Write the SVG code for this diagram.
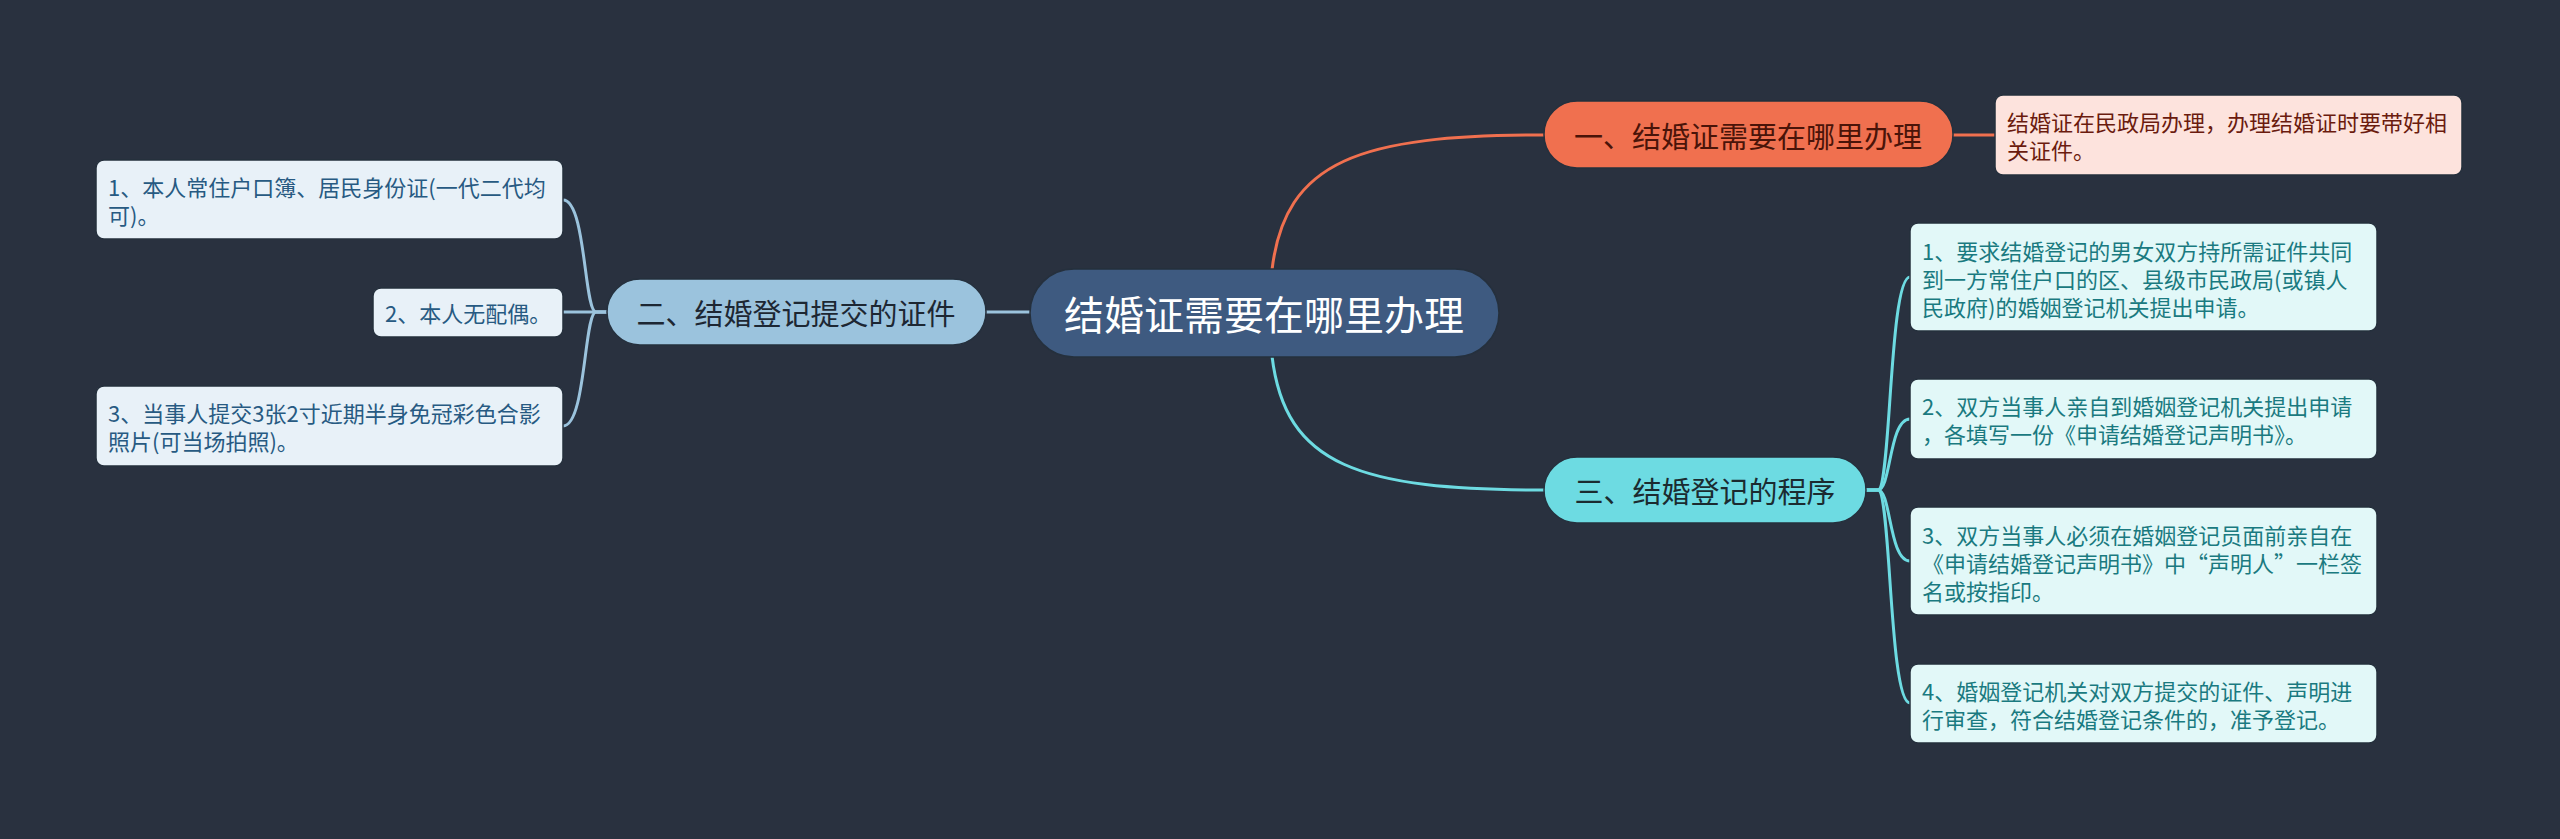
<svg xmlns="http://www.w3.org/2000/svg" width="2560" height="839" viewBox="0 0 2560 839">
<style>
text{font-family:"Noto Sans CJK SC","Microsoft YaHei",sans-serif;dominant-baseline:central}
.main{fill:#3e5a80;stroke:#25303d;stroke-width:1.5}
.mt{fill:#ffffff;font-size:40px;text-anchor:middle}
.t1{fill:#f0704f;stroke:#25303d;stroke-width:1.5}
.t1t{fill:#4a1409;font-size:29px;text-anchor:middle}
.d1{fill:#fde3dd;stroke:#25303d;stroke-width:1.5}
.d1t{fill:#6b1b0e;font-size:22px}
.t2{fill:#9bc3dd;stroke:#25303d;stroke-width:1.5}
.t2t{fill:#1d2733;font-size:29px;text-anchor:middle}
.d2{fill:#e8f1f8;stroke:#25303d;stroke-width:1.5}
.d2t{fill:#275a82;font-size:22px}
.t3{fill:#6ddbe2;stroke:#25303d;stroke-width:1.5}
.t3t{fill:#1b2b30;font-size:29px;text-anchor:middle}
.d3{fill:#e2f8f8;stroke:#25303d;stroke-width:1.5}
.d3t{fill:#1a7a80;font-size:22px}
.c{fill:none;stroke-width:3}
.co{stroke:#f0704f}
.cb{stroke:#9bc3dd}
.cc{stroke:#6ddbe2}
</style>
<rect width="2560" height="839" fill="#29313f"/>
<g id="connectors">
<path class="c co" d="M1272 270 C1285 160 1360 135 1544 135"/>
<path class="c co" d="M1953 135 L1995 135"/>
<path class="c cc" d="M1272 356 C1285 466 1360 490 1544 490"/>
<path class="c cb" d="M1030 312 L986 312"/>
<path class="c cb" d="M607 312 L563 312"/>
<path class="c cb" d="M607 312 L596 312 C584 312 586 200 563 200"/>
<path class="c cb" d="M607 312 L596 312 C584 312 586 426 563 426"/>
<path class="c cc" d="M1866 490 L1878 490 C1891 490 1889 277 1910 277"/>
<path class="c cc" d="M1866 490 L1878 490 C1891 490 1889 419 1910 419"/>
<path class="c cc" d="M1866 490 L1878 490 C1891 490 1889 561 1910 561"/>
<path class="c cc" d="M1866 490 L1878 490 C1891 490 1889 703 1910 703"/>
</g>
<g id="central">
<rect class="main" x="1030" y="269" width="469" height="88" rx="44"/>
<text class="mt" x="1264" y="313">结婚证需要在哪里办理</text>
</g>
<g id="topic1">
<rect class="t1" x="1544" y="101" width="409" height="67" rx="33"/>
<text class="t1t" x="1748" y="135">一、结婚证需要在哪里办理</text>
</g>
<g id="topic1-detail">
<rect class="d1" x="1995" y="95" width="467" height="80" rx="8"/>
<text class="d1t" x="2007" y="121">结婚证在民政局办理，办理结婚证时要带好相</text>
<text class="d1t" x="2007" y="149">关证件。</text>
</g>
<g id="topic2">
<rect class="t2" x="607" y="279" width="379" height="66" rx="33"/>
<text class="t2t" x="796" y="312">二、结婚登记提交的证件</text>
</g>
<g id="topic2-item1">
<rect class="d2" x="96" y="160" width="467" height="79" rx="8"/>
<text class="d2t" x="108" y="186">1、本人常住户口簿、居民身份证(一代二代均</text>
<text class="d2t" x="108" y="214">可)。</text>
</g>
<g id="topic2-item2">
<rect class="d2" x="373" y="288" width="190" height="49" rx="8"/>
<text class="d2t" x="385" y="312">2、本人无配偶。</text>
</g>
<g id="topic2-item3">
<rect class="d2" x="96" y="386" width="467" height="80" rx="8"/>
<text class="d2t" x="108" y="412">3、当事人提交3张2寸近期半身免冠彩色合影</text>
<text class="d2t" x="108" y="440">照片(可当场拍照)。</text>
</g>
<g id="topic3">
<rect class="t3" x="1544" y="457" width="322" height="66" rx="33"/>
<text class="t3t" x="1705" y="490">三、结婚登记的程序</text>
</g>
<g id="topic3-item1">
<rect class="d3" x="1910" y="223" width="467" height="108" rx="8"/>
<text class="d3t" x="1922" y="250">1、要求结婚登记的男女双方持所需证件共同</text>
<text class="d3t" x="1922" y="278">到一方常住户口的区、县级市民政局(或镇人</text>
<text class="d3t" x="1922" y="306">民政府)的婚姻登记机关提出申请。</text>
</g>
<g id="topic3-item2">
<rect class="d3" x="1910" y="379" width="467" height="80" rx="8"/>
<text class="d3t" x="1922" y="405">2、双方当事人亲自到婚姻登记机关提出申请</text>
<text class="d3t" x="1922" y="433">，各填写一份《申请结婚登记声明书》。</text>
</g>
<g id="topic3-item3">
<rect class="d3" x="1910" y="507" width="467" height="108" rx="8"/>
<text class="d3t" x="1922" y="534">3、双方当事人必须在婚姻登记员面前亲自在</text>
<text class="d3t" x="1922" y="562">《申请结婚登记声明书》中“声明人”一栏签</text>
<text class="d3t" x="1922" y="590">名或按指印。</text>
</g>
<g id="topic3-item4">
<rect class="d3" x="1910" y="664" width="467" height="79" rx="8"/>
<text class="d3t" x="1922" y="690">4、婚姻登记机关对双方提交的证件、声明进</text>
<text class="d3t" x="1922" y="718">行审查，符合结婚登记条件的，准予登记。</text>
</g>
</svg>
